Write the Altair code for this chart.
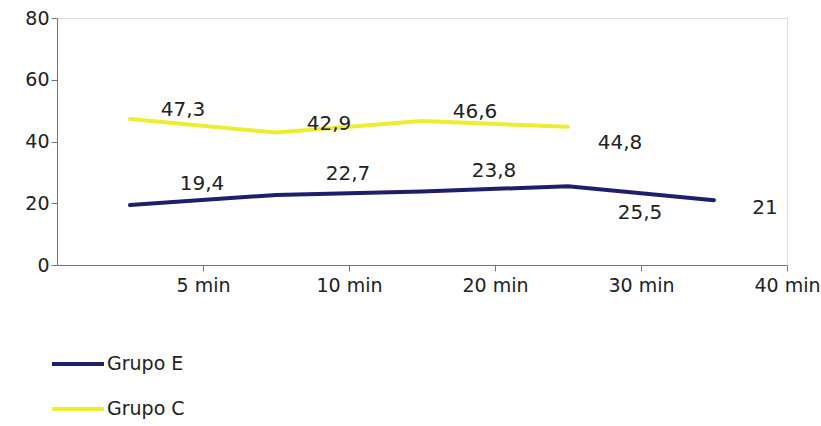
import json
import altair as alt
import pandas as pd

# Time points and group values
times = ["5 min", "10 min", "20 min", "30 min", "40 min"]
grupo_e = [19.4, 22.7, 23.8, 25.5, 21]
grupo_c = [47.3, 42.9, 46.6, 44.8]

series_names = ["Grupo E", "Grupo C"]
series_colors = ["#1e1e6e", "#eeee30"]

# Each value sits in the middle of its slot; the slot's name is written at its right edge
rows = []
for i, v in enumerate(grupo_e):
    rows.append({"pos": i + 0.5, "i": i, "serie": "Grupo E", "v": v,
                 "lbl": f"{v:g}".replace(".", ",")})
for i, v in enumerate(grupo_c):
    rows.append({"pos": i + 0.5, "i": i, "serie": "Grupo C", "v": v,
                 "lbl": f"{v:g}".replace(".", ",")})
df = pd.DataFrame(rows)

FONT = "DejaVu Sans"

x_enc = alt.X("pos:Q",
              scale=alt.Scale(domain=[0, len(times)], nice=False, zero=False),
              axis=alt.Axis(title=None, values=list(range(1, len(times) + 1)),
                            labelExpr=f"{json.dumps(times)}[datum.value - 1]",
                            labelAngle=0, labelFlush=False, labelOverlap=False,
                            labelFontSize=19, labelFont=FONT, labelColor="#222",
                            domainColor="#777", tickColor="#777", tickSize=6,
                            labelPadding=5, grid=False))
y_enc = alt.Y("v:Q",
              scale=alt.Scale(domain=[0, 80], nice=False),
              axis=alt.Axis(title=None, values=[0, 20, 40, 60, 80],
                            labelFontSize=19, labelFont=FONT, labelColor="#222",
                            domainColor="#777", tickColor="#777", tickSize=6,
                            labelPadding=2, grid=False))

base = alt.Chart(df)

lines = base.mark_line(strokeWidth=4, strokeCap="round").encode(
    x=x_enc,
    y=y_enc,
    color=alt.Color("serie:N",
                    scale=alt.Scale(domain=series_names, range=series_colors),
                    legend=alt.Legend(title=None, orient="none",
                                      legendX=-7, legendY=318,
                                      symbolType="stroke", symbolSize=2704,
                                      symbolStrokeWidth=4, labelFontSize=19,
                                      labelFont=FONT, labelColor="#222",
                                      labelOffset=1, rowPadding=7,
                                      padding=0)),
    detail="serie:N",
)


def labels(serie, idx, dx, dy):
    cond = f"datum.serie == '{serie}' && indexof({idx}, datum.i) >= 0"
    return base.transform_filter(cond).mark_text(
        dx=dx, dy=dy, fontSize=20, font=FONT, color="#222"
    ).encode(x="pos:Q", y="v:Q", text="lbl:N")


chart = alt.layer(
    lines,
    labels("Grupo E", [0, 1, 2], 72, -21),
    labels("Grupo E", [3], 72, 27),
    labels("Grupo E", [4], 51, 8),
    labels("Grupo C", [0, 1, 2], 53, -9),
    labels("Grupo C", [3], 52, 16),
).properties(
    width=730, height=247,
    autosize=alt.AutoSizeParams(type="none"),
    padding={"left": 57, "top": 18, "right": 34, "bottom": 161},
).configure_view(stroke="#e4e4e4", strokeWidth=1).configure(background="white")

chart.save("out.html", embed_options={"renderer": "svg", "actions": False})
